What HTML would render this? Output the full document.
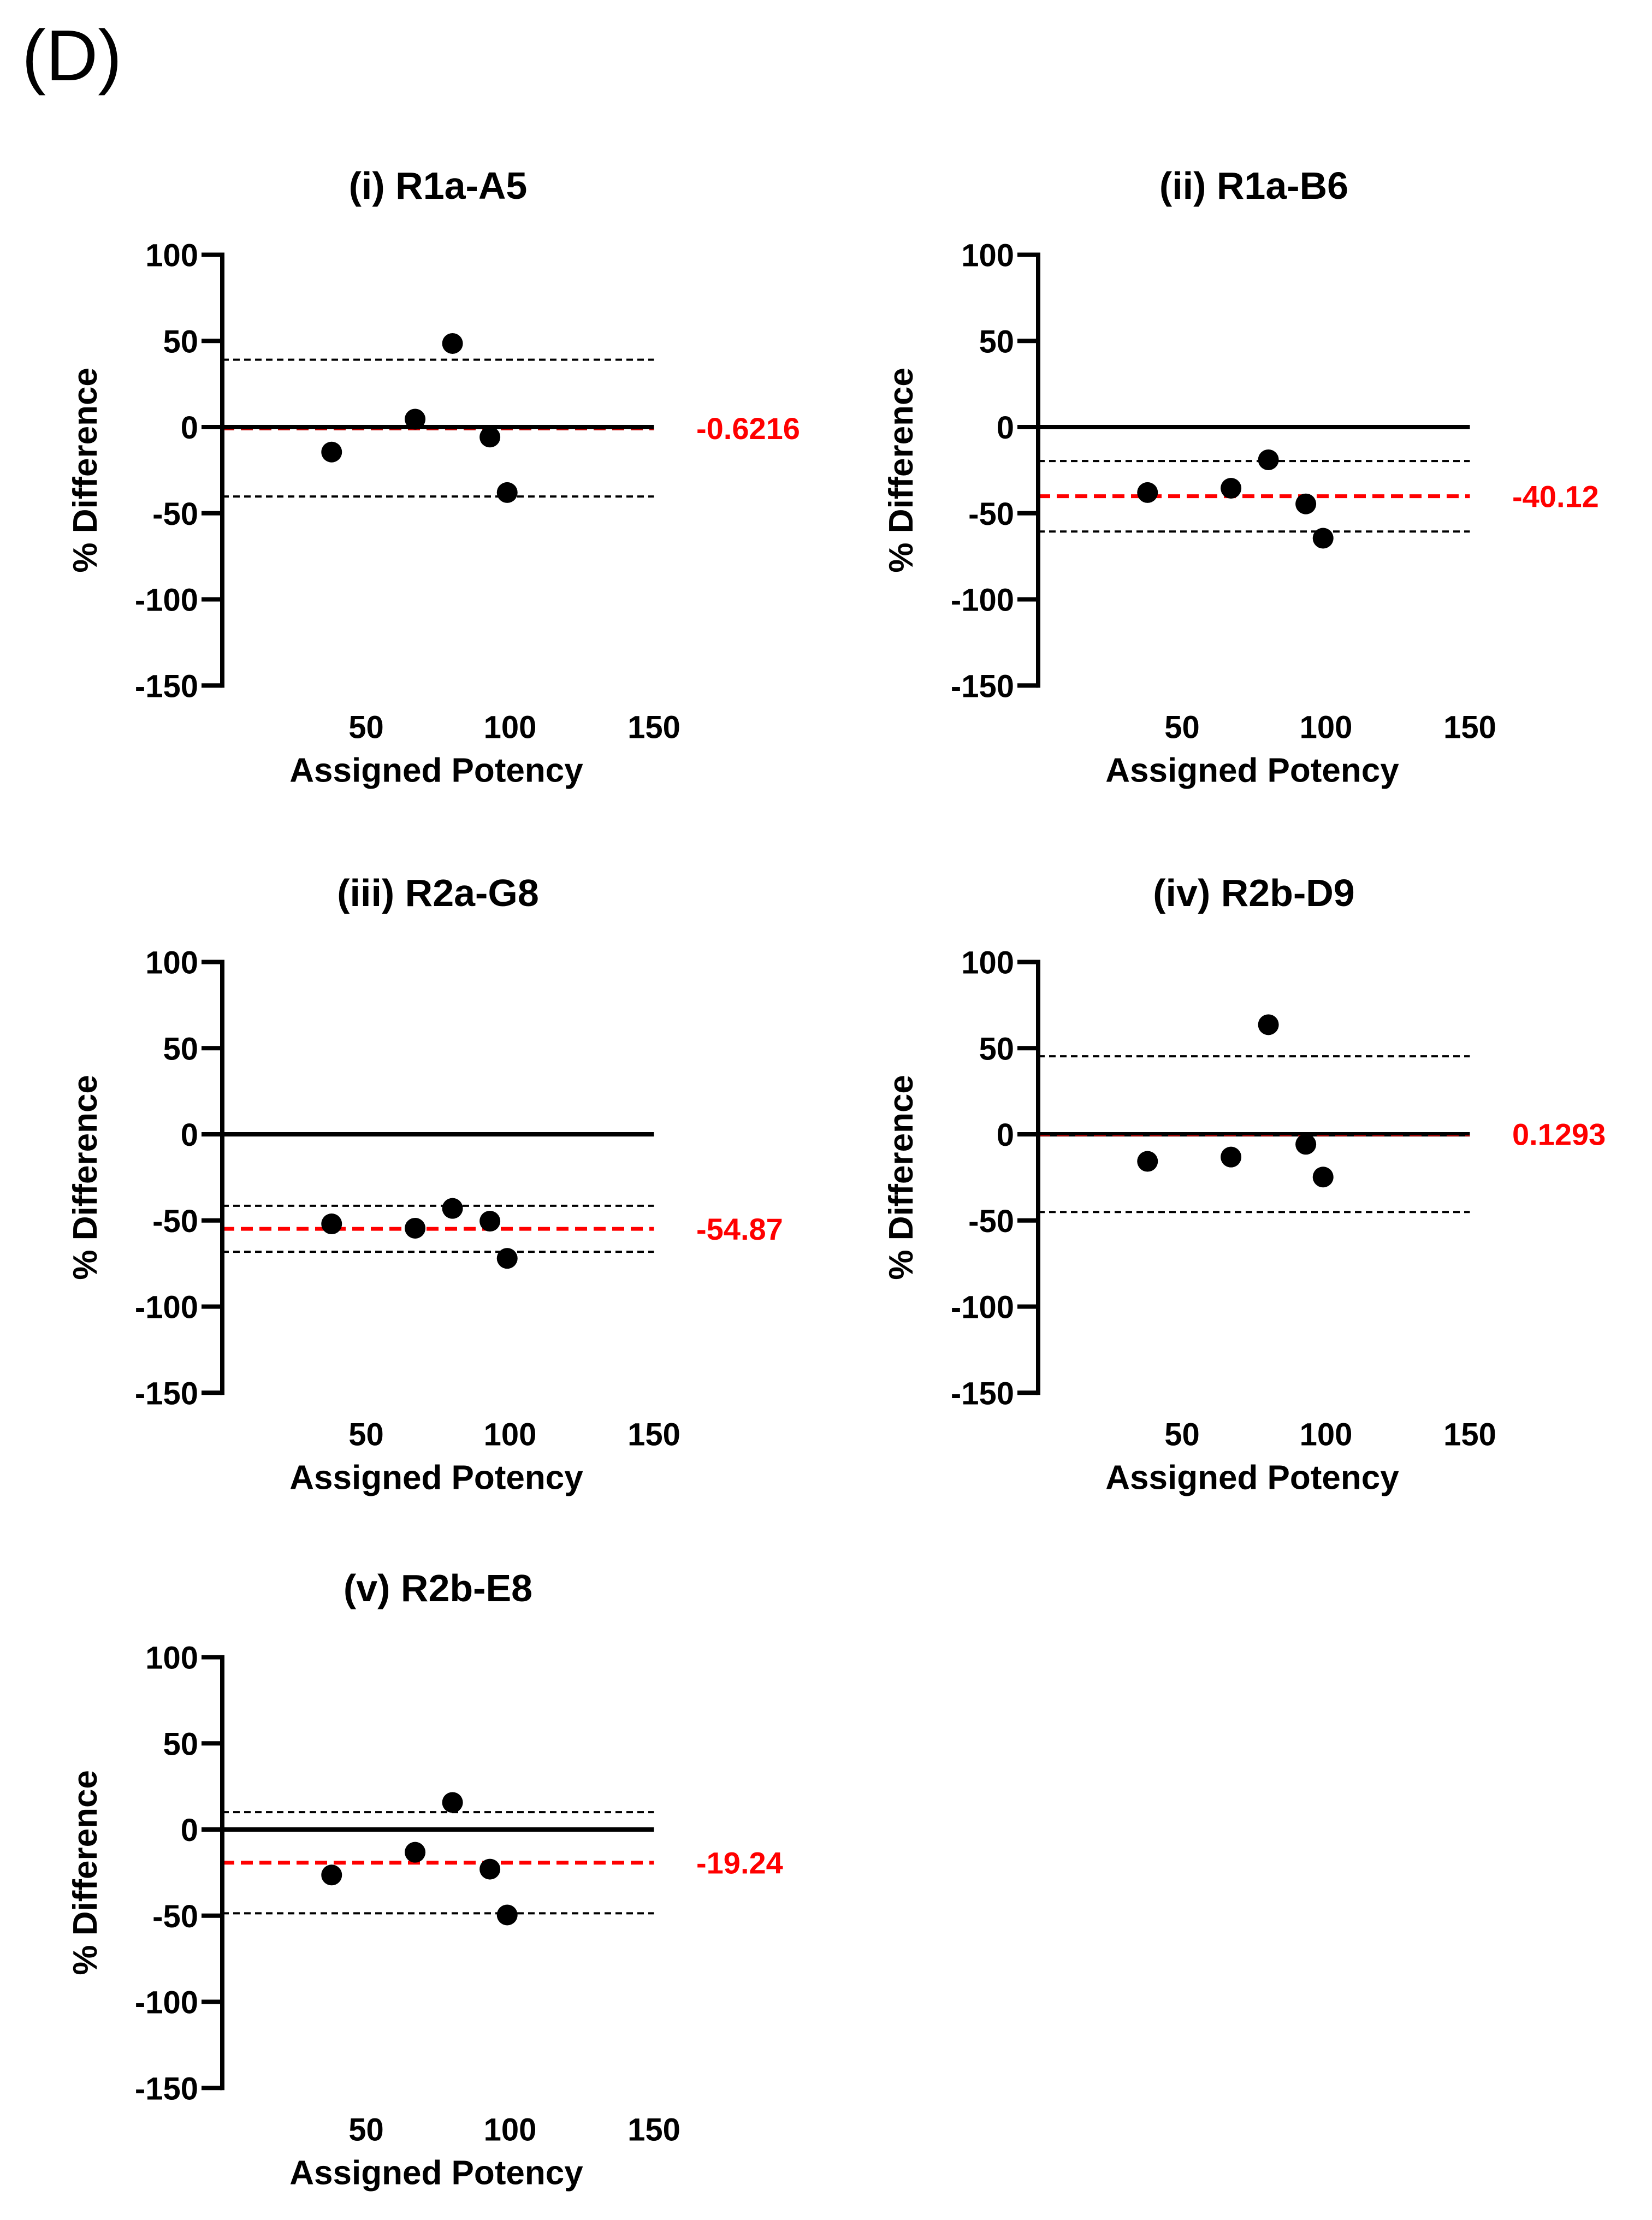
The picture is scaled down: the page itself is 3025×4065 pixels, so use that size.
<!DOCTYPE html>
<html><head><meta charset="utf-8">
<style>
html,body{margin:0;padding:0;background:#fff;}
svg{display:block;font-family:"Liberation Sans",Arial,sans-serif;}
</style></head>
<body>
<svg id="fig" width="3025" height="4065" viewBox="0 0 3025 4065" xmlns="http://www.w3.org/2000/svg">
<text x="40" y="147" font-size="132" fill="#000">(D)</text>
</svg>
<script>
const titles = ["(i) R1a-A5","(ii) R1a-B6","(iii) R2a-G8","(iv) R2b-D9","(v) R2b-E8"];
const potency = [38, 67, 80, 93, 99];
const diffI = [-14.5, 4.6, 48.5, -5.8, -38];
const diffII = [-38, -35.5, -19, -44.6, -64.5];
const diffIII = [-52, -54.5, -43, -50.4, -72];
const diffIV = [-15.7, -13.2, 63.6, -5.8, -24.8];
const diffV = [-26.4, -13.2, 15.7, -23, -49.6];
const meanVals = [-0.6216, -40.12, -54.87, 0.1293, -19.24];
const meanLabels = ["-0.6216","-40.12","-54.87","0.1293","-19.24"];
const upperLoA = [39.1, -19.7, -41.5, 45.3, 10.1];
const lowerLoA = [-40.3, -60.6, -68.2, -45.1, -48.6];
const yTicks = [100, 50, 0, -50, -100, -150];
const xTicks = [50, 100, 150];

const series = [diffI, diffII, diffIII, diffIV, diffV];
const NS = "http://www.w3.org/2000/svg";
const svg = document.getElementById('fig');
const origins = [[407,782],[1901,782],[407,2077],[1901,2077],[407,3350]];
const XS = 5.27, YS = 3.155;

function mk(tag, attrs, parent){
  const e = document.createElementNS(NS, tag);
  for (const k in attrs) e.setAttribute(k, attrs[k]);
  (parent||svg).appendChild(e);
  return e;
}

series.forEach((vals, p) => {
  const ox = origins[p][0], oy = origins[p][1];
  const xs = v => ox + v * XS;
  const ys = v => oy - v * YS;
  const g = mk('g', {});
  
  

  const t = mk('text', {x: ox + 395, y: ys(0) - 418, 'font-size': 70, 'font-weight': 'bold', 'text-anchor': 'middle'}, g);
  t.textContent = titles[p];
  
  

  const ref = [upperLoA[p], lowerLoA[p]];
  ref.forEach((v, i) => {
    const l = mk('line', {x1: ox, x2: xs(150), y1: ys(v), y2: ys(v), stroke: '#000', 'stroke-width': 4, 'stroke-dasharray': '12 8'}, g);
    
    
  });
  const mean = mk('line', {x1: ox, x2: xs(150), y1: ys(meanVals[p]), y2: ys(meanVals[p]), stroke: '#ff0000', 'stroke-width': 7, 'stroke-dasharray': '22 12'}, g);
  
  
  const zero = mk('line', {x1: ox, x2: xs(150), y1: ys(0), y2: ys(0), stroke: '#000', 'stroke-width': 8}, g);
  
  
  if (Math.abs(meanVals[p]) < 3) {
    const m2 = mk('line', {x1: ox, x2: xs(150), y1: ys(meanVals[p]) + 3, y2: ys(meanVals[p]) + 3, stroke: '#c00000', 'stroke-width': 2, 'stroke-dasharray': '22 12'}, g);
    
    
  }

  const ax = mk('line', {x1: ox, x2: ox, y1: ys(100) - 4, y2: ys(-150) + 4, stroke: '#000', 'stroke-width': 8}, g);
  
  
  yTicks.forEach(v => {
    const tk = mk('line', {x1: ox - 38, x2: ox, y1: ys(v), y2: ys(v), stroke: '#000', 'stroke-width': 8}, g);
    
    
    const tl = mk('text', {x: ox - 44, y: ys(v) + 21, 'font-size': 58, 'font-weight': 'bold', 'text-anchor': 'end'}, g);
    tl.textContent = String(v);
    
    
  });
  xTicks.forEach(v => {
    const tl = mk('text', {x: xs(v), y: ys(-150) + 96, 'font-size': 58, 'font-weight': 'bold', 'text-anchor': 'middle'}, g);
    tl.textContent = String(v);
    
    
  });
  const xt = mk('text', {x: ox + 392, y: ys(-150) + 176, 'font-size': 62, 'font-weight': 'bold', 'text-anchor': 'middle'}, g);
  xt.textContent = 'Assigned Potency';
  
  
  const yt = mk('text', {x: 0, y: 0, 'font-size': 62, 'font-weight': 'bold', 'text-anchor': 'middle', transform: 'translate(' + (ox - 230) + ',' + (ys(-25)) + ') rotate(-90)'}, g);
  yt.textContent = '% Difference';
  
  

  const ml = mk('text', {x: ox + 868, y: ys(meanVals[p]) + 20, 'font-size': 56, 'font-weight': 'bold', fill: '#ff0000'}, g);
  ml.textContent = meanLabels[p];
  
  

  vals.forEach((v, i) => {
    const c = mk('circle', {cx: xs(potency[i]), cy: ys(v), r: 19, fill: '#000'}, g);
    
    
  });
});
</script>
</body></html>
